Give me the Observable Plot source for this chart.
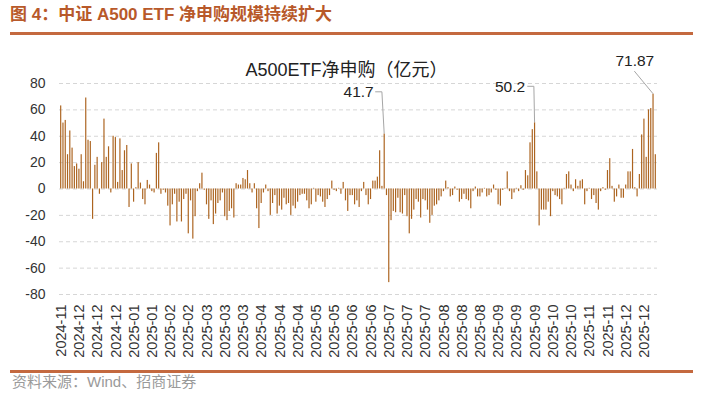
<!DOCTYPE html>
<html><head><meta charset="utf-8">
<script src="https://cdn.jsdelivr.net/npm/d3@7"></script>
<script src="https://cdn.jsdelivr.net/npm/@observablehq/plot@0.6"></script>
<style>
html,body{margin:0;padding:0;background:#fff;}
body{width:704px;height:398px;overflow:hidden;font-family:'Liberation Sans',Arial,'Noto Sans CJK SC',sans-serif;}
#hdr{margin-left:10px;width:683px;height:32px;border-bottom:3px solid #C4693F;}
#hdr h1{margin:0;padding-top:5px;font-size:17px;line-height:20px;font-weight:bold;color:#B8592A;font-family:'Liberation Sans','Noto Sans CJK SC',sans-serif;}
#chart svg{display:block;}
#ftr{margin-left:10px;width:683px;border-top:3px solid #C4693F;}
#ftr p{margin:0;padding:0 0 0 2px;font-size:15px;line-height:18px;color:#9a9a9a;font-family:'Liberation Sans','Noto Sans CJK SC',sans-serif;}
</style>
</head><body>
<div id="hdr"><h1>图 4：中证 A500 ETF 净申购规模持续扩大</h1></div>
<div id="chart"></div>
<div id="ftr"><p>资料来源：Wind、招商证券</p></div>
<script>
// ---- data ----
const chartTitle = "A500ETF净申购（亿元）";
const values = [
  63, 50, 52, 26, 44, 31, 17, 19, 15, 26,
  5.5, 69, 37, 36, -23, 18, 24, -4, 20, 53,
  24, 32, -3, 40, 39, 5, 38, 14, 29, 33,
  -14, 19, -10, 1, 20, 4.5, -8, -12, 6.5, 3,
  -2, -3, 27, 35, -4, -1, -3, -13, -28, -12,
  -4, -25, -10, -25, -8, -4, -34, -9, -38, -21,
  -2, 4, 12, -1, -12, -23, -9, -27, -19, -11,
  -9, -3, -21, -24, -17, -15, -22, 4, 3, 3,
  8, 7, 14, 4, -3, 4, -15, -30, -11, -3,
  3, -2, -20, -11, -5, -19, -13, -16, -7, -12,
  -11, -20, -13, -15, -10, -5, -4, -4, -9, -15,
  -12, 0.5, -10, -5, -6, -10, -14, -8, -5, 6,
  -1, -2, 0.5, -4, 5, -9, -17, -5, -5, -12,
  -9, -14, -2, 5, -5, -12, -8, 6, 6, 9,
  29, 2, 41.7, -5, -71, -24, -17, -18, -7, -18,
  -19, -5, -21, -34, -23, -16, -8, -10, -22, -8,
  -9, -16, -26, -20, -13, -12, -9, -6, -2, 6,
  1, -6, -5, 1.5, -1, -10, -8, -4, -8, -9,
  -15, -2, 1.5, -6, -6, -3, 0.5, -6, -5, -3,
  3, -1, -12, -13, -1, 0.5, 13, -2, -8, -3,
  0.5, -2, 2.5, -1, 14, 10, 35, 45, 50.2, 13,
  -28, -16, -16, -16, -10, -21, -2, -5, -6, -8,
  -12, 0.5, 11, 13, 3, -2, 7, 2, 6, 7,
  -12, -2, 0.5, -8, -5, -11, -16, -2, 1, -1,
  14, 23, 2, -10, -6, 3, -7, -7, 3, 13,
  13, 30, 1, -6, 11, 41, 53, 24, 60, 61,
  71.87, 26
];
const tickLabels = ["2024-11","2024-12","2024-12","2024-12","2025-01","2025-01","2025-02","2025-02","2025-03","2025-03","2025-03","2025-04","2025-04","2025-04","2025-05","2025-05","2025-06","2025-06","2025-07","2025-07","2025-07","2025-08","2025-08","2025-08","2025-09","2025-09","2025-09","2025-10","2025-10","2025-11","2025-11","2025-12","2025-12"];
const yTicks = [-80, -60, -40, -20, 0, 20, 40, 60, 80];
const annotValues = [41.7, 50.2, 71.87];
const annotLabels = ["41.7", "50.2", "71.87"];

// ---- layout / style ----
const tickStep = 8;
const barColor = "#AC6420";
const leaderColor = "#A6A6A6";
const annotLayout = [
  {path: [[0,0],[-2.3,-41.7],[-9,-41.7]], tx: -11, ty: -41.5, anchor: "end"},
  {path: [[0,0],[-0.7,-36],[-7.3,-36]], tx: -10, ty: -35.5, anchor: "end"},
  {path: [[0,0],[-18.7,-22.6]], tx: -18.7, ty: -33.6, anchor: "middle"}
];

const data = values.map((v, i) => ({i, v}));
const annots = annotValues.map((v, k) => ({i: values.indexOf(v), v, label: annotLabels[k], ...annotLayout[k]}));

const leaders = (index, scales) => {
  const g = d3.create("svg:g").attr("fill", "none").attr("stroke", leaderColor).attr("stroke-width", 1);
  const bw = scales.x.bandwidth ? scales.x.bandwidth() : 0;
  for (const a of annots) {
    const px = scales.x(a.i) + bw / 2, py = scales.y(a.v);
    g.append("path").attr("d", "M" + a.path.map(([dx, dy]) => (px + dx) + "," + (py + dy)).join("L"));
  }
  return g.node();
};

const plot = Plot.plot({
  width: 704,
  height: 335,
  marginTop: 48,
  marginBottom: 76,
  marginLeft: 59,
  marginRight: 47,
  style: {fontFamily: "'Liberation Sans', Arial, 'Noto Sans CJK SC', sans-serif", fontSize: "14px", color: "#333", background: "transparent"},
  x: {type: "band", domain: d3.range(values.length), padding: 0.48},
  y: {domain: [-80, 80]},
  marks: [
    Plot.gridY(yTicks, {stroke: "#d6d6d6", strokeOpacity: 1, strokeDasharray: "4,3"}),
    Plot.barY(data, {x: "i", y: "v", fill: barColor}),
    Plot.axisY(yTicks, {tickSize: 0, tickPadding: 14, fontSize: 14, fill: "#333", label: null, tickFormat: d => String(d)}),
    Plot.axisX(tickLabels.map((_, k) => k * tickStep), {tickSize: 0, tickRotate: -90, tickPadding: 10, fontSize: 14.5, fill: "#333", label: null, tickFormat: i => tickLabels[i / tickStep]}),
    Plot.text([chartTitle], {frameAnchor: "top", text: d => d, dx: -12, dy: -20, fontSize: 18, fill: "#222", fontFamily: "'Liberation Sans', 'Noto Sans CJK SC', sans-serif"}),
    leaders,
    ...annots.map(a => Plot.text([a], {x: "i", y: "v", text: "label", dx: a.tx, dy: a.ty, textAnchor: a.anchor, fontSize: 15.5, fill: "#222"}))
  ]
});
document.getElementById("chart").appendChild(plot);
</script>
</body></html>
